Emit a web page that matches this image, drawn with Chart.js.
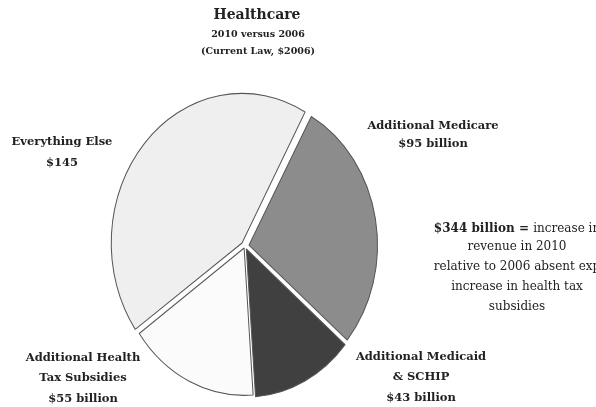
<!DOCTYPE html>
<html>
<head>
<meta charset="utf-8">
<script src="https://cdn.jsdelivr.net/npm/chart.js@4"></script>
<style>
  html, body { margin: 0; padding: 0; background: #fff; }
  #wrap { width: 596px; height: 407px; }
</style>
</head>
<body>
<div id="wrap"><canvas id="pie" width="596" height="407"></canvas></div>
<script>
// data ($ billion)
const categories = ["Additional Medicare", "Additional Medicaid & SCHIP", "Additional Health Tax Subsidies", "Everything Else"];
const values = [95, 43, 55, 145];
const sliceColors = ["#8c8c8c", "#404040", "#fbfbfb", "#efefef"];
const sliceOffsets = [16, 12, 8, 16];

const titleLines = ["Healthcare", "2010 versus 2006", "(Current Law, $2006)"];
const medicareLabel = ["Additional Medicare", "$95 billion"];
const medicaidLabel = ["Additional Medicaid", "& SCHIP", "$43 billion"];
const healthLabel = ["Additional Health", "Tax Subsidies", "$55 billion"];
const elseLabel = ["Everything Else", "$145"];
const noteLines = ["increase in", "revenue in 2010", "relative to 2006 absent exp", "increase in health tax", "subsidies"];
const noteLead = "$344 billion =";

const SERIF = '"DejaVu Serif", "Liberation Serif", serif';
const yStretch = 151 / 132;

// squash the round pie into the taller oval of the original
const ovalPlugin = {
  id: 'oval',
  beforeDatasetsDraw(chart) {
    const a = chart.chartArea;
    const cx = (a.left + a.right) / 2, cy = (a.top + a.bottom) / 2;
    const ctx = chart.ctx;
    ctx.save();
    ctx.translate(cx, cy);
    ctx.scale(1, yStretch);
    ctx.translate(-cx, -cy);
  },
  afterDatasetsDraw(chart) {
    chart.ctx.restore();
  }
};

function block(ctx, lines, x, y, step, font) {
  ctx.font = font;
  lines.forEach((t, i) => ctx.fillText(t, x, y + i * step));
}

const textPlugin = {
  id: 'texts',
  afterDraw(chart) {
    const ctx = chart.ctx;
    ctx.save();
    ctx.fillStyle = '#222';
    ctx.textAlign = 'center';
    ctx.textBaseline = 'middle';

    ctx.font = 'bold 14px ' + SERIF;
    ctx.fillText(titleLines[0], 257, 15);
    block(ctx, titleLines.slice(1), 258, 35, 17, 'bold 9.5px ' + SERIF);

    const lbl = 'bold 11.5px ' + SERIF;
    block(ctx, elseLabel, 62, 142, 21, lbl);
    block(ctx, medicareLabel, 433, 126, 18, lbl);
    block(ctx, medicaidLabel, 421, 357, 20.5, lbl);
    block(ctx, healthLabel, 83, 358, 20.5, lbl);

    // note on the right, first words in bold
    const nb = 'bold 12px ' + SERIF, nr = '12px ' + SERIF;
    ctx.font = nb;
    const leadW = ctx.measureText(noteLead + ' ').width;
    ctx.font = nr;
    const restW = ctx.measureText(noteLines[0]).width;
    const x0 = 517 - (leadW + restW) / 2;
    ctx.textAlign = 'left';
    ctx.font = nb;
    ctx.fillText(noteLead, x0, 229);
    ctx.font = nr;
    ctx.fillText(noteLines[0], x0 + leadW, 229);
    ctx.textAlign = 'center';
    block(ctx, noteLines.slice(1), 517, 247, 20, nr);
    ctx.restore();
  }
};

new Chart(document.getElementById('pie'), {
  type: 'pie',
  data: {
    labels: categories,
    datasets: [{
      data: values,
      backgroundColor: sliceColors,
      borderColor: '#555',
      borderWidth: 1,
      offset: sliceOffsets
    }]
  },
  options: {
    responsive: false,
    devicePixelRatio: 1,
    animation: false,
    rotation: 29,
    layout: { padding: { left: 108, right: 214, top: 109, bottom: 24 } },
    plugins: {
      legend: { display: false },
      tooltip: { enabled: false },
      title: { display: false }
    },
    events: []
  },
  plugins: [ovalPlugin, textPlugin]
});
</script>
</body>
</html>
